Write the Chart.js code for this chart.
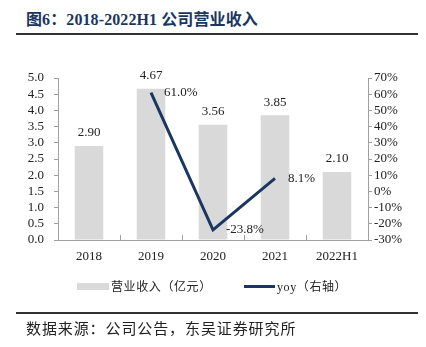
<!DOCTYPE html>
<html>
<head>
<meta charset="utf-8">
<script src="https://cdn.jsdelivr.net/npm/chart.js@4/dist/chart.umd.min.js"></script>
<style>
  html, body { margin: 0; padding: 0; background: #fff; }
  #wrap { position: relative; width: 426px; height: 347px; overflow: hidden; }
  #chart { position: absolute; left: 0; top: 0; }
  .title {
    position: absolute; left: 26px; top: 6px;
    font: bold 16px "Liberation Serif", "Noto Sans CJK SC", serif;
    color: #1b3660; white-space: nowrap; letter-spacing: 0.1px;
  }
  .rule { position: absolute; left: 16px; width: 402px; height: 2px; background: #333; }
  .legend {
    position: absolute; top: 277px; font: 12px "Liberation Serif", "Noto Sans CJK SC", serif;
    color: #222; white-space: nowrap; letter-spacing: 0.6px;
  }
  .source {
    position: absolute; left: 26px; top: 317px;
    font: 15px "Noto Sans CJK SC", sans-serif; color: #222; letter-spacing: 0.9px; white-space: nowrap;
  }
</style>
</head>
<body>
<div id="wrap">
  <div class="title">图6：2018-2022H1 公司营业收入</div>
  <div class="rule" style="top:33px"></div>
  <canvas id="chart" width="426" height="347"></canvas>
  <div class="legend" style="left:77px">
    <span style="display:inline-block;width:32px;height:7px;background:#d9d9d9;vertical-align:1px;margin-right:2px"></span>营业收入（亿元）
  </div>
  <div class="legend" style="left:244px">
    <span style="display:inline-block;width:31px;height:3px;background:#1b3660;vertical-align:3px;margin-right:2px"></span>yoy（右轴）
  </div>
  <div class="rule" style="top:312px"></div>
  <div class="source">数据来源：公司公告，东吴证券研究所</div>
</div>
<script>
const kategorije = ["2018", "2019", "2020", "2021", "2022H1"];
const prihodki = [2.90, 4.67, 3.56, 3.85, 2.10];
const rast = [null, 61.0, -23.8, 8.1, null];

const barvaStolpca = "#d9d9d9";
const barvaCrte = "#1b3660";
const barvaOsi = "#a0a0a0";
const pisava = "'Liberation Serif', 'Times New Roman', serif";

// napisi nad stolpci in ob crti
const oznake = {
  id: "oznake",
  afterDatasetsDraw(chart) {
    const ctx = chart.ctx;
    ctx.save();
    ctx.font = "13px " + pisava;
    ctx.fillStyle = "#222";
    ctx.textBaseline = "middle";

    chart.getDatasetMeta(0).data.forEach((bar, i) => {
      ctx.textAlign = "center";
      ctx.fillText(prihodki[i].toFixed(2), bar.x, bar.y - 13);
    });

    chart.getDatasetMeta(1).data.forEach((tocka, i) => {
      if (rast[i] == null) return;
      ctx.textAlign = "left";
      ctx.fillText(rast[i].toFixed(1) + "%", tocka.x + 13, tocka.y);
    });

    // kratke crtice na meji kategorij
    const x = chart.scales.x;
    const dno = chart.chartArea.bottom;
    ctx.strokeStyle = barvaOsi;
    ctx.lineWidth = 1;
    for (let i = 1; i < kategorije.length; i++) {
      const px = Math.round((x.getPixelForValue(i - 1) + x.getPixelForValue(i)) / 2) + 0.5;
      ctx.beginPath();
      ctx.moveTo(px, dno);
      ctx.lineTo(px, dno - 5);
      ctx.stroke();
    }
    ctx.restore();
  },
};

new Chart(document.getElementById("chart"), {
  data: {
    labels: kategorije,
    datasets: [
      {
        type: "bar",
        label: "营业收入（亿元）",
        data: prihodki,
        backgroundColor: barvaStolpca,
        categoryPercentage: 1,
        barPercentage: 0.46,
        yAxisID: "y",
        order: 2,
      },
      {
        type: "line",
        label: "yoy（右轴）",
        data: rast,
        borderColor: barvaCrte,
        borderWidth: 3,
        pointRadius: 0,
        tension: 0,
        yAxisID: "y1",
        order: 1,
      },
    ],
  },
  options: {
    responsive: false,
    animation: false,
    events: [],
    layout: { padding: { top: 78, bottom: 77, left: 0, right: 0 } },
    plugins: { legend: { display: false }, tooltip: { enabled: false } },
    scales: {
      x: {
        grid: { display: false, drawTicks: false },
        border: { color: barvaOsi },
        ticks: { color: "#222", font: { family: pisava, size: 13 }, padding: 9, maxRotation: 0 },
        afterFit(s) { s.height = 30; },
      },
      y: {
        position: "left",
        min: 0,
        max: 5,
        ticks: {
          stepSize: 0.5,
          autoSkip: false,
          color: "#222",
          font: { family: pisava, size: 13 },
          padding: 10,
          callback: (v) => v.toFixed(1),
        },
        grid: { drawOnChartArea: false, tickLength: 4, color: barvaOsi },
        border: { color: barvaOsi },
        afterFit(s) { s.width = 58; },
      },
      y1: {
        position: "right",
        min: -30,
        max: 70,
        ticks: {
          stepSize: 10,
          autoSkip: false,
          color: "#222",
          font: { family: pisava, size: 13 },
          padding: 2,
          callback: (v) => v + "%",
        },
        grid: { drawOnChartArea: false, tickLength: 4, color: barvaOsi },
        border: { color: barvaOsi },
        afterFit(s) { s.width = 58; },
      },
    },
  },
  plugins: [oznake],
});
</script>
</body>
</html>
